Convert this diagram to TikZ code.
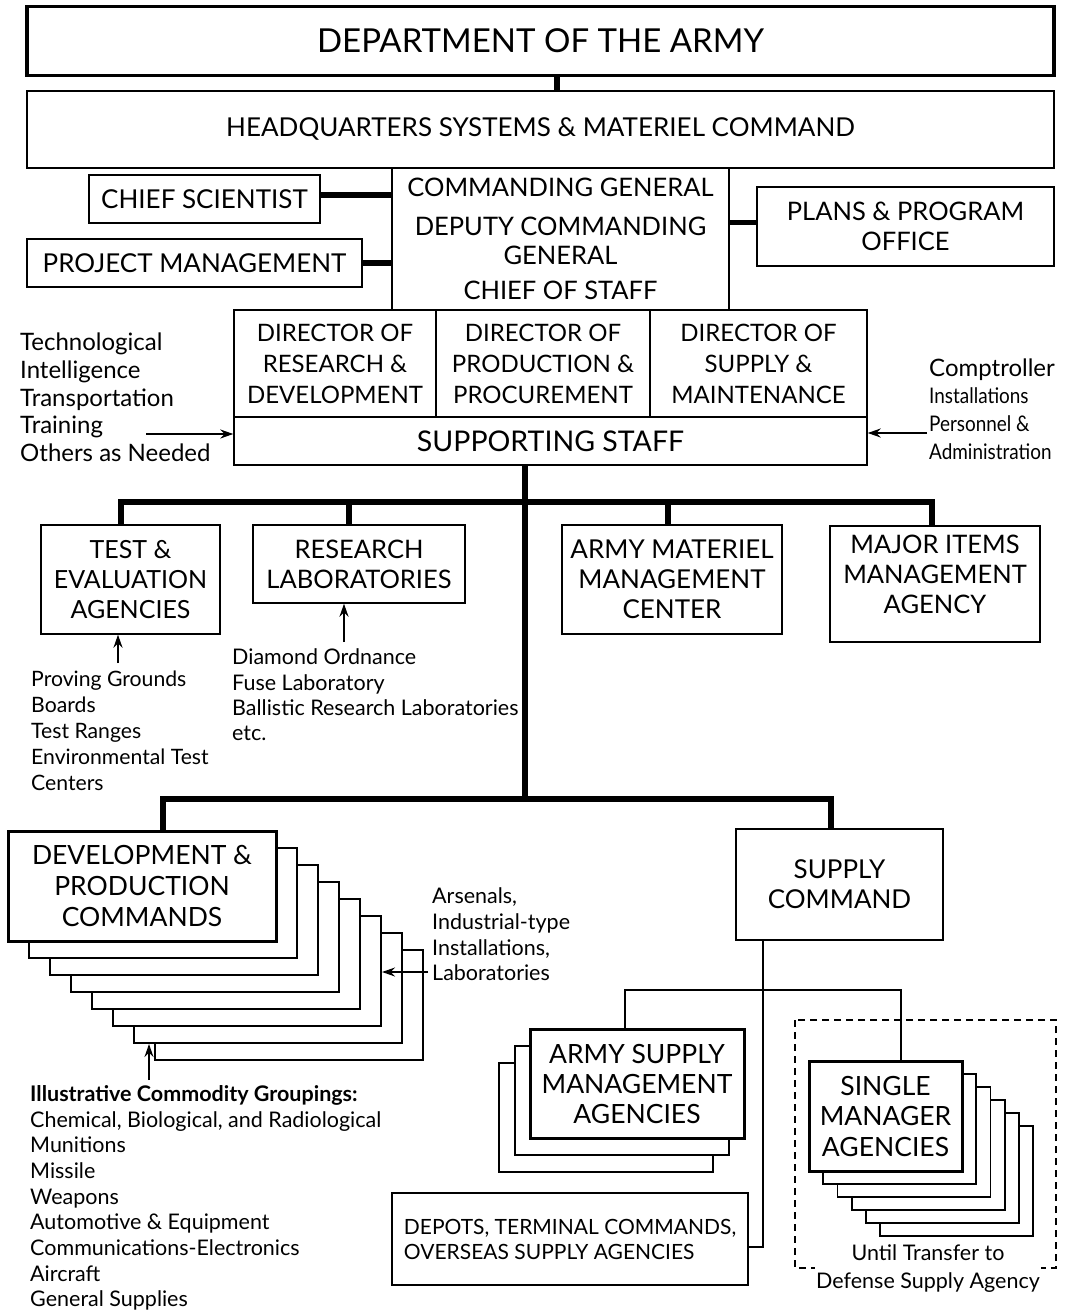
\documentclass[tikz,border=0pt]{standalone}
\usepackage{fontspec}
\setmainfont{Lato}
\newfontfamily\condfont[FakeStretch=0.88]{Lato}
\usetikzlibrary{arrows.meta,calc}
\newcommand{\topfont}{\fontsize{33pt}{38pt}\selectfont}
\newcommand{\hqfont}{\fontsize{26pt}{32pt}\selectfont}
\newcommand{\lblfont}{\fontsize{25pt}{31pt}\selectfont}
\newcommand{\dpfont}{\fontsize{26.5pt}{31pt}\selectfont}
\newcommand{\depfont}{\fontsize{21pt}{25pt}\selectfont}
\newcommand{\notefont}{\fontsize{24pt}{27.7pt}\selectfont}
\newcommand{\smallnote}{\fontsize{21.5pt}{25.7pt}\selectfont}

\begin{document}
\begin{tikzpicture}[x=1pt,y=-1pt,>={Stealth[length=13pt,width=9pt]},
    box/.style={draw,line width=1.4pt,fill=white,align=center,inner sep=0pt,font=\lblfont},
    heavybox/.style={box,line width=3pt},
    layer/.style={draw,line width=2pt,fill=white},
    bar/.style={line width=5.5pt},
    link/.style={line width=1.5pt},
    pointer/.style={->,line width=1.5pt},
    dashbox/.style={line width=1.3pt,dash pattern=on 7pt off 5pt},
    note/.style={align=left,anchor=west,inner sep=0pt,font=\notefont}]

  \useasboundingbox (0,0) rectangle (1068,1313);

  % headquarters and staff
  \node[box,line width=3.5pt,minimum width=1027pt,minimum height=69pt,font=\topfont] (army) at (540.5,41) {DEPARTMENT OF THE ARMY};
  \node[box,minimum width=1027pt,minimum height=77pt,font=\hqfont] (hq) at (540.5,129.5) {HEADQUARTERS SYSTEMS \& MATERIEL COMMAND};
  \node[box,minimum width=337pt,minimum height=142pt,font=\fontsize{25.5pt}{29pt}\selectfont] (cg) at (560.5,239)
       {COMMANDING GENERAL\\[10pt]DEPUTY COMMANDING\\GENERAL\\[6pt]CHIEF OF STAFF};
  \node[box,minimum width=231pt,minimum height=48pt,font=\fontsize{26pt}{31pt}\selectfont] (cs) at (204.5,199) {CHIEF SCIENTIST};
  \node[box,minimum width=335pt,minimum height=48pt,font=\fontsize{26pt}{31pt}\selectfont] (pm) at (194.5,263) {PROJECT MANAGEMENT};
  \node[box,minimum width=297pt,minimum height=79pt,font=\fontsize{25.5pt}{30pt}\selectfont] (pp) at (905.5,226.5) {PLANS \& PROGRAM\\OFFICE};

  \node[box,minimum width=202pt,minimum height=107pt,font=\fontsize{24pt}{31pt}\selectfont] (drd) at (335,363.5) {DIRECTOR OF\\RESEARCH \&\\DEVELOPMENT};
  \node[box,minimum width=214pt,minimum height=107pt,font=\fontsize{24pt}{31pt}\selectfont] (dpp) at (543,363.5) {DIRECTOR OF\\PRODUCTION \&\\PROCUREMENT};
  \node[box,minimum width=217pt,minimum height=107pt,font=\fontsize{24pt}{31pt}\selectfont] (dsm) at (758.5,363.5) {DIRECTOR OF\\SUPPLY \&\\MAINTENANCE};
  \node[box,minimum width=633pt,minimum height=48pt,font=\fontsize{28.5pt}{32pt}\selectfont] (ss) at (550.5,441) {SUPPORTING STAFF};

  \coordinate (csLink) at ([yshift=4pt]cs.east);
  \coordinate (ppLink) at ([yshift=4pt]pp.west);
  \draw[bar] ([xshift=16.5pt]army.south) -- ([xshift=16.5pt]hq.north);
  \draw[bar] (csLink) -- (cg.west |- csLink);
  \draw[bar] (pm.east) -- (cg.west |- pm.east);
  \draw[bar] (ppLink) -- (cg.east |- ppLink);

  \node[note] (tech) at (20,397.5) {Technological\\Intelligence\\Transportation\\Training\\Others as Needed};
  \node[note] (comp) at (929,409) {Comptroller\\{\condfont\fontsize{21.5pt}{27.7pt}\selectfont Installations}\\{\condfont\fontsize{21.5pt}{27.7pt}\selectfont Personnel \&}\\{\condfont\fontsize{21.5pt}{27.7pt}\selectfont Administration}};
  \coordinate (techend) at (146,434);
  \coordinate (compend) at (927,433);
  \draw[pointer] (techend) -- (ss.west |- techend);
  \draw[pointer] (compend) -- (ss.east |- compend);

  % agencies under the staff
  \coordinate (bus1) at (525,502);
  \coordinate (bus2) at (525,799);
  \draw[bar] (ss.south -| bus1) -- (bus2);

  \node[box,minimum width=179pt,minimum height=109pt,font=\fontsize{25pt}{30pt}\selectfont] (te) at (130.5,579.5) {TEST \&\\EVALUATION\\AGENCIES};
  \node[box,minimum width=212pt,minimum height=78pt,font=\fontsize{25.5pt}{30pt}\selectfont] (rl) at (359,564) {RESEARCH\\LABORATORIES};
  \node[box,minimum width=220pt,minimum height=109pt,font=\fontsize{26pt}{30pt}\selectfont] (amm) at (672,579.5) {ARMY MATERIEL\\MANAGEMENT\\CENTER};
  \node[box,minimum width=210pt,minimum height=116pt,font=\fontsize{25.5pt}{30pt}\selectfont] (mi) at (935,584) {MAJOR ITEMS\\MANAGEMENT\\AGENCY\\[-10pt]};

  \coordinate (teTop) at ([xshift=-9.5pt]te.north);
  \coordinate (rlTop) at ([xshift=-10pt]rl.north);
  \coordinate (ammTop) at ([xshift=-4pt]amm.north);
  \coordinate (miTop) at ([xshift=-3pt]mi.north);
  \draw[bar] (teTop) |- (miTop |- bus1) -- (miTop);
  \draw[bar] (rlTop) -- (rlTop |- bus1);
  \draw[bar] (ammTop) -- (ammTop |- bus1);

  \node[note,font=\fontsize{21.2pt}{26pt}\selectfont] (proving) at (31,731) {Proving Grounds\\Boards\\Test Ranges\\Environmental Test\\Centers};
  \node[note,font=\fontsize{21.5pt}{25.3pt}\selectfont] (diamond) at (232,695) {Diamond Ordnance\\Fuse Laboratory\\Ballistic Research Laboratories\\etc.};
  \coordinate (teArrow) at (118,663);
  \coordinate (rlArrow) at (344,642);
  \draw[pointer] (teArrow) -- (te.south -| teArrow);
  \draw[pointer] (rlArrow) -- (rl.south -| rlArrow);

  % development and production commands
  \coordinate (dpc) at (142,886);
  \foreach \k in {7,6,...,1}
    \node[layer,minimum width=268pt,minimum height=110pt] (dp\k) at ($(dpc)+(21*\k,17*\k)$) {};
  \node[heavybox,minimum width=268pt,minimum height=110pt,font=\dpfont] (dp) at (dpc) {DEVELOPMENT \&\\PRODUCTION\\COMMANDS};

  \node[note,font=\smallnote] (arsenals) at (432,934.5) {Arsenals,\\Industrial-type\\Installations,\\Laboratories};
  \coordinate (arsArrow) at (428,972);
  \draw[pointer] (arsArrow) -- (dp5.east |- arsArrow);

  \node[note,font=\smallnote] (groups) at (30,1198) {\textbf{Illustrative Commodity Groupings:}\\Chemical, Biological, and Radiological\\Munitions\\Missile\\Weapons\\Automotive \& Equipment\\Communications-Electronics\\Aircraft\\General Supplies};
  \coordinate (grpArrow) at (149,1080);
  \draw[pointer] (grpArrow) -- (dp6.south -| grpArrow);

  % supply command
  \node[box,minimum width=207pt,minimum height=111pt,font=\fontsize{26pt}{30pt}\selectfont] (sc) at (839.5,884.5) {SUPPLY\\COMMAND};
  \coordinate (dpTop) at ([xshift=21pt]dp.north);
  \coordinate (scTop) at ([xshift=-8.5pt]sc.north);
  \draw[bar] (dpTop) |- (bus2) -| (scTop);

  \coordinate (asmc) at (637,1083.5);
  \foreach \k in {2,1}
    \node[layer,minimum width=214pt,minimum height=109pt] (asm\k) at ($(asmc)+(-15.5*\k,17*\k)$) {};
  \node[heavybox,minimum width=214pt,minimum height=109pt,font=\fontsize{26.5pt}{30pt}\selectfont] (asm) at (asmc) {ARMY SUPPLY\\MANAGEMENT\\AGENCIES};

  \draw[dashbox] (795,1020) rectangle (1056,1268);
  \coordinate (smgc) at (885.5,1116);
  \foreach \k in {5,4,...,1}
    \node[layer,line width=1.8pt,minimum width=153pt,minimum height=110pt] (smg\k) at ($(smgc)+(14.2*\k,13*\k)$) {};
  \node[heavybox,minimum width=153pt,minimum height=110pt,font=\fontsize{26.5pt}{30.5pt}\selectfont] (smg) at (smgc) {SINGLE\\MANAGER\\AGENCIES};
  \node[font=\fontsize{21.5pt}{28pt}\selectfont,fill=white,inner sep=1pt,align=center] (transfer) at (928,1269) {Until Transfer to\\Defense Supply Agency};

  \node[box,minimum width=356pt,minimum height=92pt,align=left,font=\depfont] (dep) at (570,1239) {DEPOTS, TERMINAL COMMANDS,\\OVERSEAS SUPPLY AGENCIES};

  \coordinate (fork) at (763,990);
  \coordinate (depLink) at ([yshift=-8pt]dep.east);
  \coordinate (asmTop) at ([xshift=-12pt]asm.north);
  \coordinate (smgTop) at ([xshift=15.5pt]smg.north);
  \draw[link] (sc.south -| fork) |- (depLink);
  \draw[link] (asmTop) |- (fork) -| (smgTop);
\end{tikzpicture}
\end{document}
